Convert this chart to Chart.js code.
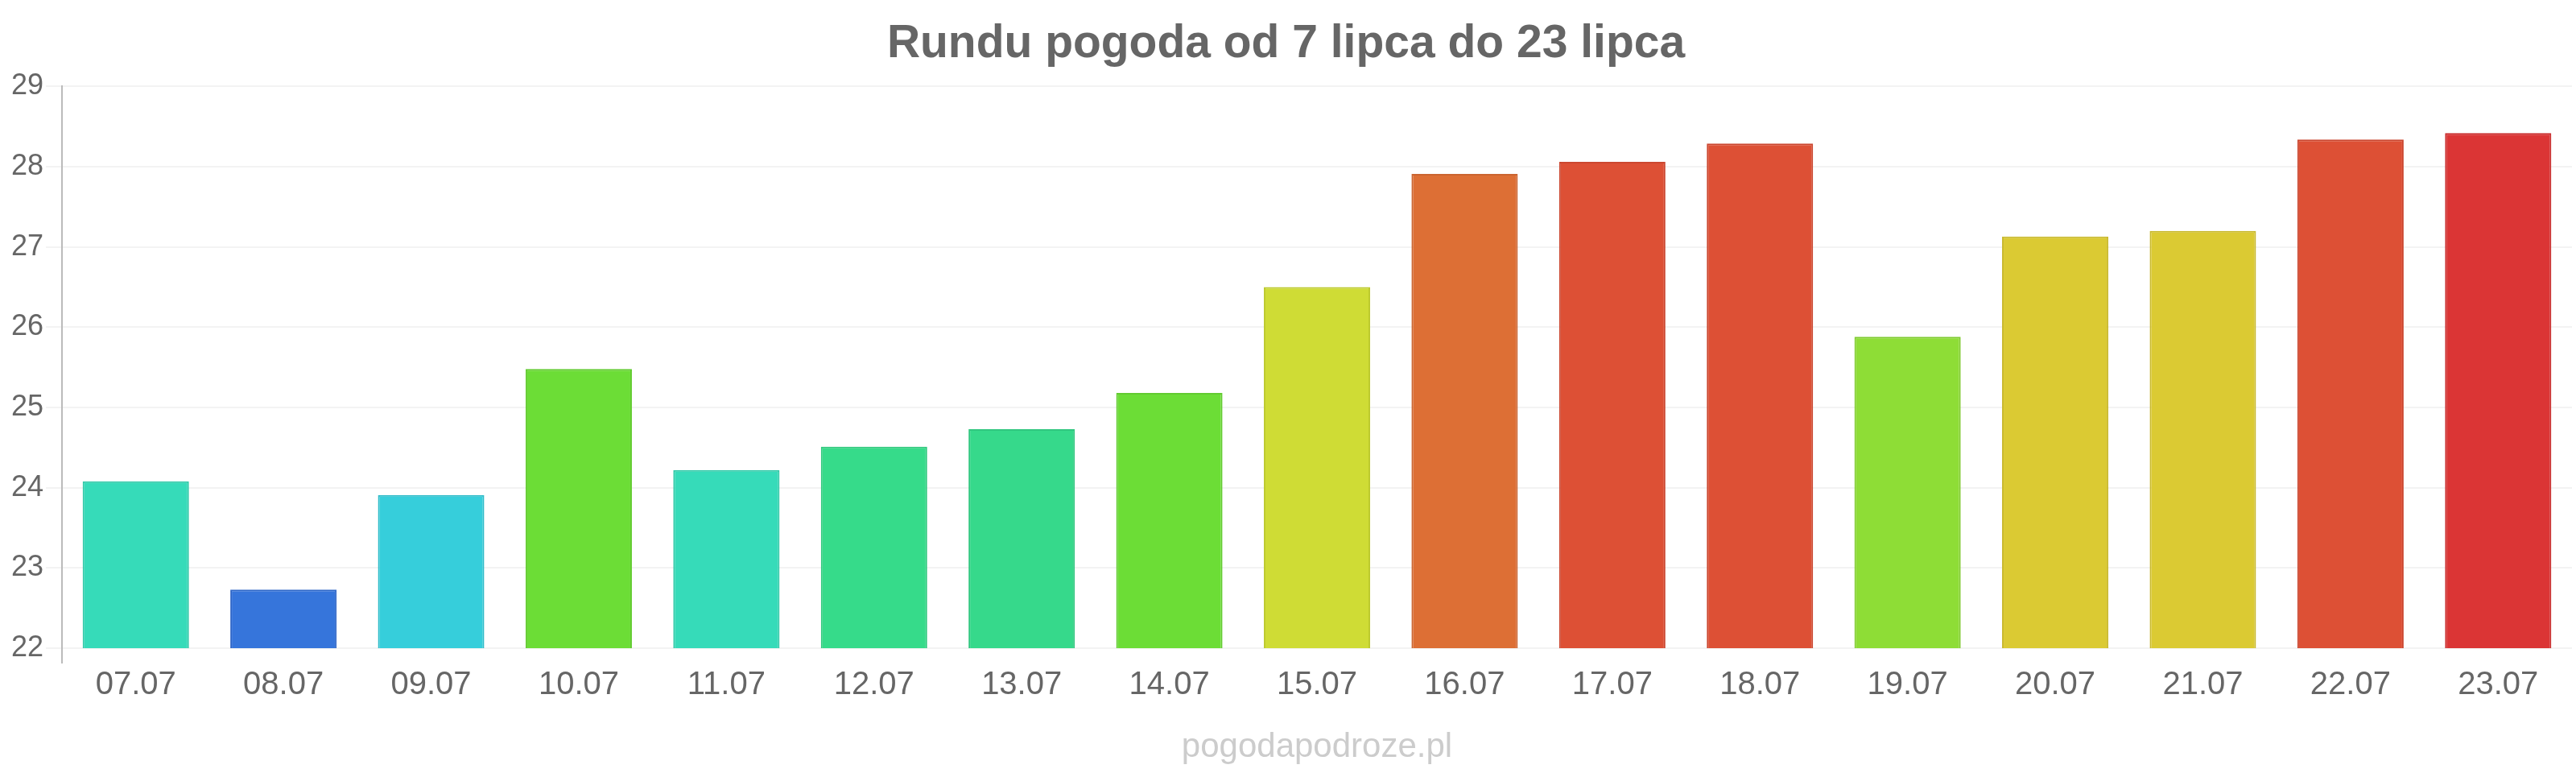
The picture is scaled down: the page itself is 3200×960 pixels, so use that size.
<!DOCTYPE html>
<html>
<head>
<meta charset="utf-8">
<script src="https://cdn.jsdelivr.net/npm/chart.js@4"></script>
<style>
html,body{margin:0;padding:0;background:#fff;}
#wrap{width:3200px;height:960px;}
</style>
</head>
<body>
<div id="wrap"><canvas id="c" width="3200" height="960"></canvas></div>
<script>
const categories = ["07.07","08.07","09.07","10.07","11.07","12.07","13.07","14.07","15.07","16.07","17.07","18.07","19.07","20.07","21.07","22.07","23.07"];
const temperatures = [24.08, 22.73, 23.91, 25.48, 24.22, 24.51, 24.73, 25.18, 26.50, 27.91, 28.06, 28.29, 25.88, 27.13, 27.20, 28.34, 28.42];
const barColors = ["#36dbb9","#3675db","#36cedb","#6cdd36","#36dbb9","#36db8a","#36d98b","#6cdd36","#cfdc35","#dd6f35","#dd5035","#dd5035","#8edd36","#dbca33","#dbca33","#dd5035","#db3535"];
const borderColors = ["#30c9a8","#3068c9","#30bcc9","#62cb30","#30c9a8","#30c97e","#30c77f","#62cb30","#bdca2f","#cb6430","#cb4730","#cb4730","#80cb30","#c9b92e","#c9b92e","#cb4730","#c92f2f"];
const yTicks = [22,23,24,25,26,27,28,29];
const titleText = "Rundu pogoda od 7 lipca do 23 lipca";
const watermark = "pogodapodroze.pl";

const watermarkPlugin = {
  id: 'watermark',
  afterDraw(chart) {
    const ctx = chart.ctx;
    const a = chart.chartArea;
    ctx.save();
    ctx.font = '42px "Liberation Sans", Arial, sans-serif';
    ctx.fillStyle = '#cccccc';
    ctx.textAlign = 'center';
    ctx.textBaseline = 'middle';
    ctx.fillText(watermark, (a.left + a.right) / 2, 928);
    ctx.restore();
  }
};

new Chart(document.getElementById('c'), {
  type: 'bar',
  data: {
    labels: categories,
    datasets: [{
      data: temperatures,
      backgroundColor: barColors,
      borderColor: borderColors,
      borderWidth: 2
    }]
  },
  options: {
    responsive: false,
    animation: false,
    devicePixelRatio: 1,
    layout: { padding: { left: 0, right: 5, top: 0, bottom: 82 } },
    plugins: {
      legend: { display: false },
      tooltip: { enabled: false },
      title: {
        display: true,
        text: titleText,
        color: '#666666',
        font: { family: '"Liberation Sans", Arial, sans-serif', size: 57, weight: 'bold' },
        padding: { top: 21, bottom: 18 }
      }
    },
    scales: {
      x: {
        grid: {
          display: true,
          color: (c) => c.index === 0 ? '#bbbbbb' : 'rgba(0,0,0,0)',
          lineWidth: 2,
          tickLength: 19,
          drawOnChartArea: true
        },
        border: { display: false },
        ticks: {
          color: '#666666',
          font: { family: '"Liberation Sans", Arial, sans-serif', size: 40 },
          padding: 3,
          maxRotation: 0,
          autoSkip: false
        }
      },
      y: {
        min: 22,
        max: 29,
        afterBuildTicks: (s) => { s.ticks = yTicks.map(v => ({ value: v })); },
        afterFit: (s) => { s.width = 77; },
        grid: {
          color: '#f3f3f3',
          lineWidth: 2,
          tickLength: 20
        },
        border: { display: true, color: '#bbbbbb', width: 2 },
        ticks: {
          color: '#666666',
          font: { family: '"Liberation Sans", Arial, sans-serif', size: 36 },
          padding: 3
        }
      }
    }
  },
  plugins: [watermarkPlugin]
});
</script>
</body>
</html>
